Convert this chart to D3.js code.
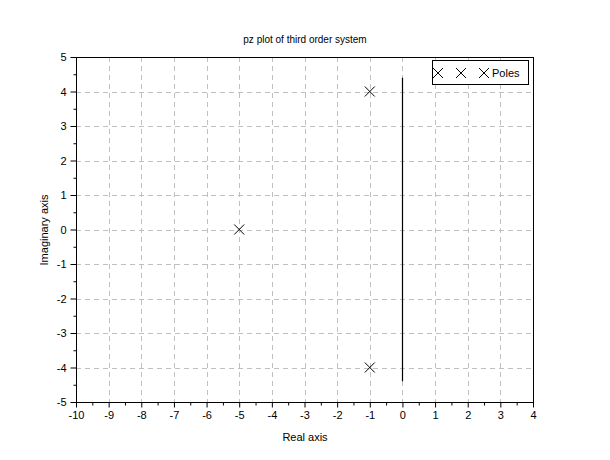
<!DOCTYPE html>
<html><head><meta charset="utf-8">
<script src="https://cdn.jsdelivr.net/npm/d3@7/dist/d3.min.js"></script>
<style>body{margin:0;background:#fff}svg{display:block}text{font-family:"Liberation Sans",Arial,sans-serif;fill:#000}</style>
</head><body><svg id="c" width="610" height="460"></svg>
<script>
const poleRe = [-1, -1, -5];
const poleIm = [4, -4, 0];
const axisLineIm = [-4.4, 4.4];
const xTicks = d3.range(-10, 5, 1);
const yTicks = d3.range(-5, 6, 1);
const xMinor = d3.range(-9.5, 4, 1);
const yMinor = d3.range(-4.5, 5, 1);
const title = "pz plot of third order system";
const xLabel = "Real axis";
const yLabel = "Imaginary axis";
const legendLabel = "Poles";

const svg = d3.select("#c");
const L = 76, R = 533, T = 57, B = 402;
const x = d3.scaleLinear().domain([-10, 4]).range([L, R]);
const y = d3.scaleLinear().domain([-5, 5]).range([B, T]);
const fmt = d => String(d);

// grid
const g = svg.append("g");
g.selectAll(".gx").data(xTicks.slice(1, -1)).enter().append("line")
  .attr("x1", d => Math.round(x(d)) + 0.5).attr("x2", d => Math.round(x(d)) + 0.5)
  .attr("y1", T).attr("y2", B)
  .attr("stroke", "#c0c0c0").attr("stroke-dasharray", "5,4");
g.selectAll(".gy").data(yTicks.slice(1, -1)).enter().append("line")
  .attr("y1", d => Math.round(y(d)) + 0.5).attr("y2", d => Math.round(y(d)) + 0.5)
  .attr("x1", L).attr("x2", R)
  .attr("stroke", "#c0c0c0").attr("stroke-dasharray", "5,4");

// frame
svg.append("rect").attr("x", L + 0.5).attr("y", T + 0.5).attr("width", R - L).attr("height", B - T)
  .attr("fill", "none").attr("stroke", "#000");

// axes
const xa = svg.append("g").attr("transform", `translate(0,${B + 0.5})`)
  .call(d3.axisBottom(x).tickValues(xTicks).tickFormat(fmt).tickSize(5).tickPadding(4));
const ya = svg.append("g").attr("transform", `translate(${L + 0.5},0)`)
  .call(d3.axisLeft(y).tickValues(yTicks).tickFormat(fmt).tickSize(6).tickPadding(4));
[xa, ya].forEach(a => {
  a.select(".domain").remove();
  a.selectAll("text").style("font-size", "11px").style("font-family", "'Liberation Sans',Arial,sans-serif");
  a.selectAll("line").attr("stroke", "#000");
});
svg.append("g").attr("transform", `translate(0,${B + 0.5})`)
  .call(d3.axisBottom(x).tickValues(xMinor).tickFormat("").tickSize(3))
  .call(a => { a.select(".domain").remove(); a.selectAll("line").attr("stroke", "#000"); });
svg.append("g").attr("transform", `translate(${L + 0.5},0)`)
  .call(d3.axisLeft(y).tickValues(yMinor).tickFormat("").tickSize(3))
  .call(a => { a.select(".domain").remove(); a.selectAll("line").attr("stroke", "#000"); });

// imaginary axis line
svg.append("line").attr("x1", Math.round(x(0)) + 0.5).attr("x2", Math.round(x(0)) + 0.5)
  .attr("y1", y(axisLineIm[1])).attr("y2", y(axisLineIm[0]))
  .attr("stroke", "#000").attr("stroke-width", 1.2);

// poles
const cross = (sel, cx, cy, s) => {
  sel.append("path").attr("d", `M${cx - s},${cy - s}L${cx + s},${cy + s}M${cx - s},${cy + s}L${cx + s},${cy - s}`)
    .attr("stroke", "#000").attr("stroke-width", 1).attr("fill", "none");
};
poleRe.forEach((re, i) => cross(svg, x(re), y(poleIm[i]), 5));

// legend
svg.append("rect").attr("x", 432.5).attr("y", 60.5).attr("width", 96).attr("height", 24)
  .attr("fill", "#fff").attr("stroke", "#000");
[438, 461, 484].forEach(cx => cross(svg, cx, 73, 5));
svg.append("text").attr("x", 492).attr("y", 77).style("font-size", "11px").text(legendLabel);

// labels
svg.append("text").attr("x", 305).attr("y", 43).attr("text-anchor", "middle").style("font-size", "10px").text(title);
svg.append("text").attr("x", 305).attr("y", 441).attr("text-anchor", "middle").style("font-size", "11px").text(xLabel);
svg.append("text").attr("transform", "translate(48,230) rotate(-90)").attr("text-anchor", "middle").style("font-size", "11px").text(yLabel);
</script></body></html>
